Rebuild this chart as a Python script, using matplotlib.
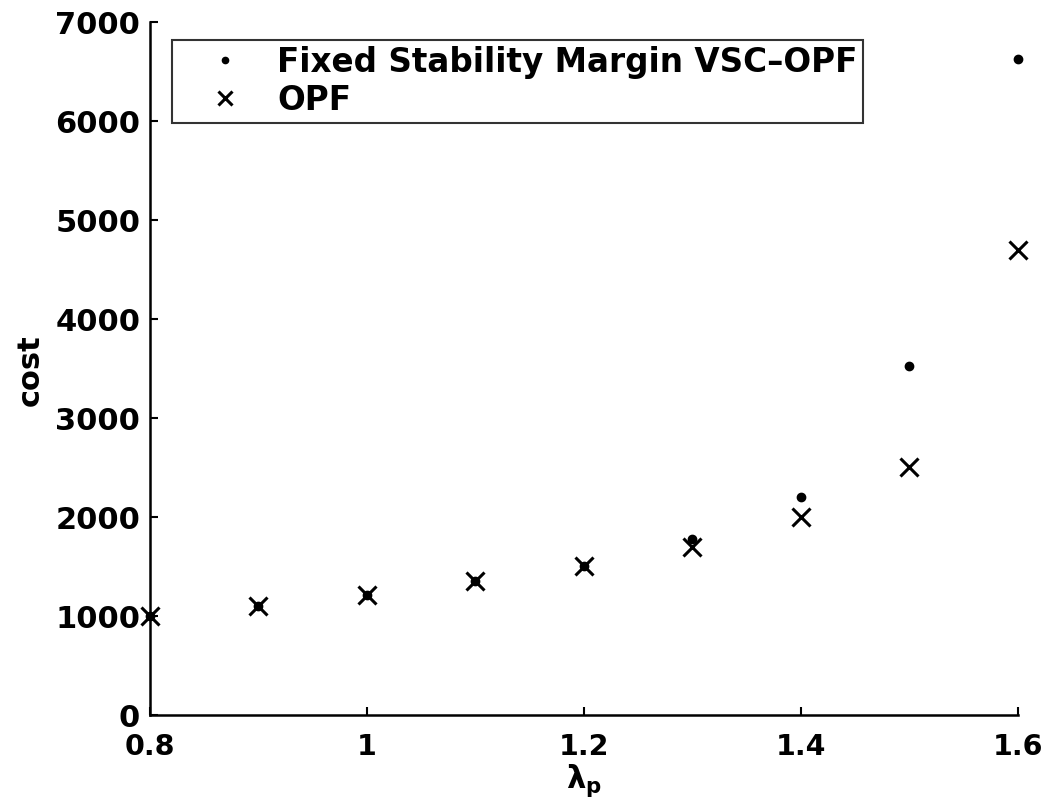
import matplotlib
matplotlib.use("Agg")
import matplotlib.pyplot as plt

# Loading factor and generation cost for the two formulations
lambda_p = [0.8, 0.9, 1.0, 1.1, 1.2, 1.3, 1.4, 1.5, 1.6]
cost_vsc_opf = [1000, 1100, 1210, 1350, 1510, 1780, 2200, 3530, 6630]
cost_opf = [1000, 1100, 1210, 1350, 1510, 1700, 2000, 2510, 4700]

x_ticks = [0.8, 1.0, 1.2, 1.4, 1.6]
x_tick_labels = ["0.8", "1", "1.2", "1.4", "1.6"]
y_ticks = [0, 1000, 2000, 3000, 4000, 5000, 6000, 7000]

plt.rcParams["font.family"] = ["DejaVu Sans"]
plt.rcParams["font.weight"] = "bold"
plt.rcParams["mathtext.fontset"] = "dejavusans"

fig = plt.figure(figsize=(10.48, 8.07), dpi=100)
ax = fig.add_axes([0.1431, 0.1140, 0.8282, 0.8587])

ax.plot(lambda_p, cost_vsc_opf, linestyle="none", marker="o", markersize=6,
        color="black", clip_on=False, zorder=3,
        label="Fixed Stability Margin VSC\u2013OPF")
ax.plot(lambda_p, cost_opf, linestyle="none", marker="x", markersize=13,
        markeredgewidth=2.2, color="black", clip_on=False, zorder=4,
        label="OPF")

ax.set_xlim(0.8, 1.6)
ax.set_ylim(0, 7000)
ax.set_xticks(x_ticks)
ax.set_xticklabels(x_tick_labels)
ax.set_yticks(y_ticks)

for side in ("top", "right"):
    ax.spines[side].set_visible(False)
for side in ("left", "bottom"):
    ax.spines[side].set_linewidth(1.8)

ax.tick_params(direction="in", length=6, width=1.5)
ax.tick_params(axis="y", labelsize=22, pad=7)
ax.tick_params(axis="x", labelsize=20.5, pad=13)

ax.set_xlabel(r"$\mathbf{\lambda_p}$", fontsize=22)
ax.xaxis.set_label_coords(0.5, -0.068)
ax.set_ylabel("cost", fontsize=22, fontweight="bold")
ax.yaxis.set_label_coords(-0.121, 0.498)

leg = ax.legend(loc="upper left", bbox_to_anchor=(0.025, 0.974),
                fontsize=23.5, frameon=True, fancybox=False, numpoints=1,
                markerscale=0.75, handlelength=2.9, handletextpad=0.15,
                borderpad=0.18, labelspacing=0.15, borderaxespad=0)
leg.get_frame().set_edgecolor("black")
leg.get_frame().set_linewidth(1.5)

fig.savefig("out.png", dpi=100, facecolor="white")
